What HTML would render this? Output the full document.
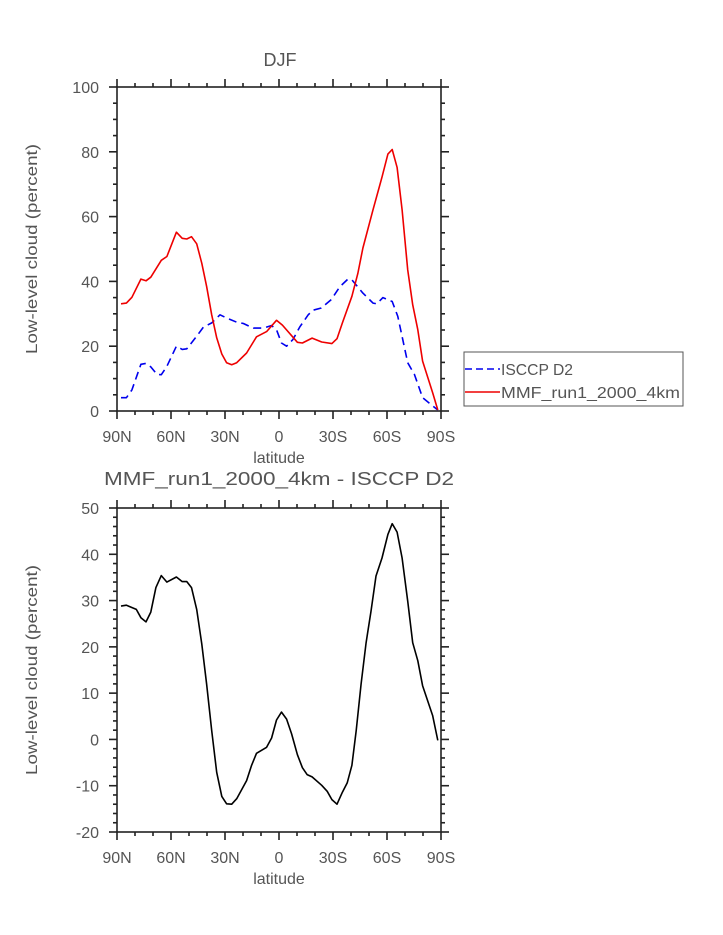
<!DOCTYPE html>
<html><head><meta charset="utf-8"><style>
html,body{margin:0;padding:0;background:#fff;}
svg{display:block;font-family:"Liberation Sans",sans-serif;}
text{fill:#555;}
</style></head><body>
<svg id="c" width="723" height="935" viewBox="0 0 723 935"></svg>
<script>
// ---- data ----
const redLat=[-87.8,-84.8,-81.7,-76.7,-73.9,-71.2,-65.4,-62.3,-57.0,-53.8,-51.2,-48.6,-45.7,-42.9,-40.2,-37.4,-34.6,-31.8,-29.1,-26.3,-23.5,-18.0,-12.5,-6.9,-1.4,1.9,10.2,13.0,18.4,23.7,29.4,32.2,35.2,40.5,43.8,46.6,52.2,57.3,60.5,62.9,65.6,68.4,71.5,74.3,77.1,79.8,85.4,88.2];
const redVal=[33.1,33.3,35.1,40.7,40.2,41.3,46.5,47.7,55.2,53.3,53.1,53.8,51.6,45.6,38.5,29.7,22.6,17.6,14.9,14.3,14.9,17.9,22.9,24.5,28.0,26.5,21.2,21.0,22.5,21.3,20.8,22.3,27.2,35.4,42.4,50.3,62.1,72.3,79.3,80.7,75.2,62.1,43.6,32.8,25.1,15.4,5.6,0.3];
const blueLat=[-87.8,-84.8,-81.7,-76.7,-73.9,-71.2,-67.8,-65.4,-62.3,-57.0,-53.8,-51.2,-45.7,-42.0,-37.4,-32.8,-29.1,-23.5,-19.8,-14.3,-8.8,-4.1,-1.4,1.4,4.2,7.8,11.5,16.2,18.9,23.5,29.1,33.7,38.3,40.5,46.6,52.2,54.4,57.7,62.9,66.0,71.5,75.2,79.8,88.2];
const blueVal=[4.1,4.1,6.5,14.4,14.7,13.6,11.3,11.2,13.8,20.0,19.0,19.2,23.1,25.9,27.2,29.7,28.7,27.4,27.0,25.6,25.6,26.4,25.1,21.0,20.0,22.1,25.9,29.7,31.1,31.8,34.4,38.3,40.7,40.5,36.4,33.3,33.1,35.0,33.8,29.2,14.9,11.3,4.1,0.3];
const diffLat=[-87.8,-84.8,-79.3,-76.7,-73.9,-71.2,-68.4,-65.4,-62.3,-57.0,-53.8,-51.2,-48.6,-45.7,-42.9,-40.2,-37.4,-34.6,-31.8,-29.1,-26.3,-23.5,-18.0,-15.2,-12.5,-6.9,-4.1,-1.4,1.4,4.2,7.0,10.2,13.0,15.6,18.4,23.7,26.8,29.4,32.2,35.2,37.9,40.5,42.9,45.6,48.4,51.1,53.9,57.2,60.5,62.9,65.6,68.4,71.5,74.3,77.1,79.8,85.4,88.2];
const diffVal=[28.8,29.0,28.1,26.3,25.4,27.5,32.8,35.4,34.0,35.1,34.1,34.1,32.8,28.1,20.6,12.0,1.9,-7.1,-12.3,-13.9,-14.0,-12.8,-8.9,-5.6,-3.0,-1.7,0.3,4.2,5.9,4.4,1.2,-3.3,-6.1,-7.6,-8.1,-9.9,-11.2,-13.0,-14.0,-11.4,-9.4,-5.6,1.9,12.0,20.9,27.7,35.3,39.2,44.3,46.6,44.8,39.2,29.9,20.9,17.0,11.6,5.1,-0.2];
const xTickVals=[-90,-60,-30,0,30,60,90];
const xTickLabels=["90N","60N","30N","0","30S","60S","90S"];
const topYTicks=[0,20,40,60,80,100];
const botYTicks=[-20,-10,0,10,20,30,40,50];

const NS="http://www.w3.org/2000/svg";
const svg=document.getElementById('c');
function mk(tag,attrs,parent){const e=document.createElementNS(NS,tag);for(const k in attrs)e.setAttribute(k,attrs[k]);(parent||svg).appendChild(e);return e;}
function txt(s,attrs,parent){const e=mk('text',attrs,parent);e.textContent=s;return e;}

function panel(o){
  const L=117,R=441,T=o.top,B=o.bottom;
  const xs=v=>L+(v+90)/180*(R-L);
  const ys=v=>B-(v-o.ymin)/(o.ymax-o.ymin)*(B-T);
  const g=mk('g',{});
  
  
  const ax=mk('g',{stroke:'#222','stroke-width':1.6},g);
  
  
  mk('rect',{x:L,y:T,width:R-L,height:B-T,fill:'none'},ax);
  for(let v=-90;v<=90;v+=10){
    const len=(v%30===0)?8:4;const x=xs(v);
    mk('line',{x1:x,y1:B,x2:x,y2:B+len},ax);
    mk('line',{x1:x,y1:T,x2:x,y2:T-len},ax);
  }
  for(let v=o.ymin;v<=o.ymax+1e-9;v+=o.minor){
    const major=Math.abs(((v-o.ymin)%o.major))<1e-9;
    const len=major?8:4;const y=ys(v);
    mk('line',{x1:L,y1:y,x2:L-len,y2:y},ax);
    mk('line',{x1:R,y1:y,x2:R+len,y2:y},ax);
  }
  xTickVals.forEach((v,i)=>{
    const t=txt(xTickLabels[i],{x:xs(v),y:B+31,'font-size':16,'text-anchor':'middle'},g);
    
    
  });
  o.yticks.forEach(v=>{
    const t=txt(String(v),{x:99,y:ys(v)+6,'font-size':16,'text-anchor':'end'},g);
    
    
  });
  const xt=txt('latitude',{x:279,y:B+52,'font-size':16,'text-anchor':'middle'},g);
  
  
  const cy=(T+B)/2;
  const yt=txt('Low-level cloud (percent)',{x:0,y:0,'font-size':16,'text-anchor':'middle',transform:`translate(37,${cy}) rotate(-90)`,textLength:210,lengthAdjust:'spacingAndGlyphs'},g);
  
  
  o.series.forEach(s=>{
    const d=s.lat.map((la,i)=>(i?'L':'M')+xs(la).toFixed(1)+','+ys(s.val[i]).toFixed(1)).join(' ');
    const p=mk('path',{d:d,fill:'none',stroke:s.color,'stroke-width':1.6,'stroke-dasharray':s.dash||'none','stroke-linejoin':'round'},g);
    
    
  });
}

panel({name:'top-panel',top:87,bottom:411,ymin:0,ymax:100,major:20,minor:5,yticks:topYTicks,
  series:[{name:'isccp-d2-line',lat:blueLat,val:blueVal,color:'#0000ee',dash:'8,5'},
          {name:'mmf-line',lat:redLat,val:redVal,color:'#ee0000'}]});
panel({name:'bottom-panel',top:508,bottom:832,ymin:-20,ymax:50,major:10,minor:2,yticks:botYTicks,
  series:[{name:'difference-line',lat:diffLat,val:diffVal,color:'#000'}]});

const t1=txt('DJF',{x:280,y:66,'font-size':18,'text-anchor':'middle'});


const t2=txt('MMF_run1_2000_4km - ISCCP D2',{x:279,y:485,'font-size':18,'text-anchor':'middle',textLength:350,lengthAdjust:'spacingAndGlyphs'});



const lg=mk('g',{});


mk('rect',{x:464,y:352,width:219,height:54,fill:'#fff',stroke:'#555','stroke-width':1},lg);
mk('line',{x1:465,y1:369,x2:500,y2:369,stroke:'#0000ee','stroke-width':1.6,'stroke-dasharray':'7,4'},lg);
mk('line',{x1:465,y1:392,x2:500,y2:392,stroke:'#ee0000','stroke-width':1.6},lg);
const l1=txt('ISCCP D2',{x:501,y:375,'font-size':16,textLength:72,lengthAdjust:'spacingAndGlyphs'},lg);


const l2=txt('MMF_run1_2000_4km',{x:501,y:398,'font-size':16,textLength:179,lengthAdjust:'spacingAndGlyphs'},lg);


</script>
</body></html>
